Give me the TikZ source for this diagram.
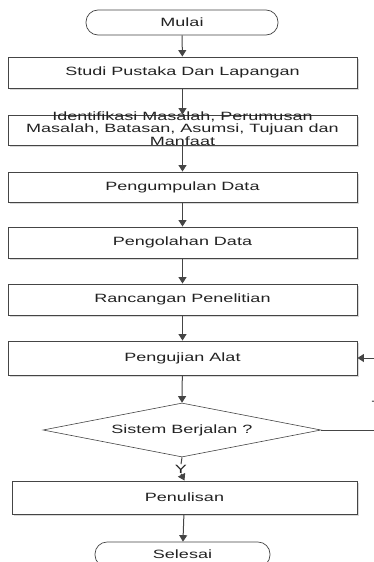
\documentclass[tikz,border=0pt]{standalone}
\usepackage{fontspec}
\setmainfont{Liberation Sans}[FakeStretch=1.5]
\usetikzlibrary{shapes.geometric,arrows.meta,shadows}
\definecolor{linec}{HTML}{454545}
\definecolor{textc}{HTML}{222222}
\tikzset{
  every node/.style={font=\fontsize{12}{12.5}\selectfont, text=textc},
  procbox/.style={draw=linec, line width=0.9pt, fill=white, inner sep=0pt,
    general shadow={fill=gray!30, shadow xshift=1.6pt, shadow yshift=-1.6pt}},
  termbox/.style={draw=linec, line width=0.7pt, fill=white, rounded corners=12pt,
    minimum height=25pt, inner sep=0pt},
  decbox/.style={diamond, draw=linec, line width=0.6pt, fill=white, inner sep=0pt,
    minimum width=278pt, minimum height=54pt},
  flow/.style={draw=linec, line width=1pt, -{Triangle[width=8pt,length=6.5pt]}},
  plain/.style={draw=linec, line width=1pt}
}
\begin{document}
\begin{tikzpicture}[x=1pt,y=-1pt]
  \useasboundingbox (0,0) rectangle (373,562);

  % terminals, process boxes and the decision
  \node[termbox, minimum width=192pt] (mulai) at (182,22.5) {Mulai};
  \node[procbox, minimum width=349pt, minimum height=31pt] (studi) at (182.5,72.5) {Studi Pustaka Dan Lapangan};
  \node[procbox, minimum width=349pt, minimum height=30pt] (ident) at (182.5,130) {};
  \node[align=center, inner sep=0pt] (identtxt) at (182.5,128.5)
    {Identifikasi Masalah, Perumusan\\Masalah, Batasan, Asumsi, Tujuan dan\\Manfaat};
  \node[procbox, minimum width=349pt, minimum height=30pt] (kumpul) at (182.5,187) {Pengumpulan Data};
  \node[procbox, minimum width=349pt, minimum height=31pt] (olah) at (182.5,242.5) {Pengolahan Data};
  \node[procbox, minimum width=349pt, minimum height=31pt] (rancang) at (182.5,299.5) {Rancangan Penelitian};
  \node[procbox, minimum width=349pt, minimum height=34pt] (uji) at (182.5,358) {Pengujian Alat};
  \node[decbox] (cek) at (182,430) {};
  \node[inner sep=0pt] (cektxt) at (182,430) {Sistem Berjalan ?};
  \node[inner sep=0.5pt] (ya) at (181,469) {Y};
  \node[procbox, minimum width=345pt, minimum height=33pt] (tulis) at (184.5,497.5) {Penulisan};
  \node[termbox, minimum width=175pt] (selesai) at (182.5,554.5) {Selesai};
  \node[inner sep=0pt] (tidak) at (377,405) {T};

  % main flow
  \draw[flow] (mulai) -- (studi);
  \draw[flow] (studi) -- (ident);
  \draw[flow] (ident) -- (kumpul);
  \draw[flow] (kumpul) -- (olah);
  \draw[flow] (olah) -- (rancang);
  \draw[flow] (rancang) -- (uji);
  \draw[flow] (uji) -- (cek.north);
  \draw[plain] (cek.south) -- (ya.north);
  \draw[flow] (ya.south) -- (tulis.north);
  \draw[flow] (tulis) -- (selesai);

  % loop back when the system does not run
  \coordinate (balik) at (392,430);
  \draw[flow] (cek.east) -- (balik) |- (uji.east);
\end{tikzpicture}
\end{document}
